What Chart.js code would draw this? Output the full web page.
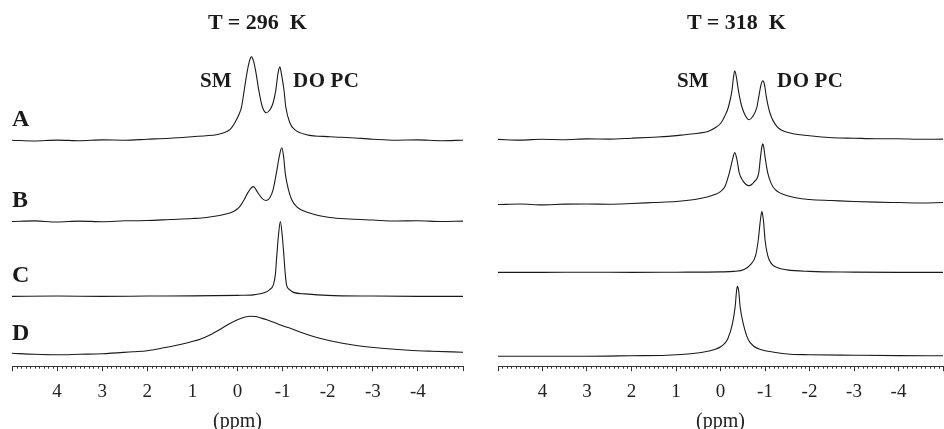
<!DOCTYPE html>
<html>
<head>
<meta charset="utf-8">
<script src="https://cdn.jsdelivr.net/npm/chart.js@4.4.1/dist/chart.umd.min.js"></script>
<style>
  body { margin: 0; background: #fff; }
  #wrap { position: relative; width: 944px; height: 429px; overflow: hidden; font-family: 'Liberation Serif', 'Times New Roman', serif; color: #1a1a1a; }
  .panel { position: absolute; top: 0; height: 433px; }
  .lbl { position: absolute; font-weight: bold; line-height: 1; white-space: pre; }
  .title { font-size: 22px; }
  .comp { font-size: 21px; }
  .row { font-size: 24px; left: 12px; }
</style>
</head>
<body>
<div id="wrap">
  <div class="panel" style="left:0; width:472px"><canvas id="left"></canvas></div>
  <div class="panel" style="left:472px; width:480px"><canvas id="right"></canvas></div>

  <div class="lbl title" style="left:208px; top:11px">T = 296  K</div>
  <div class="lbl title" style="left:687px; top:11px">T = 318  K</div>

  <div class="lbl comp" style="left:200px; top:70px">SM</div>
  <div class="lbl comp" style="left:293px; top:70px; letter-spacing:0.5px">DO<span style="margin-left:5px">PC</span></div>
  <div class="lbl comp" style="left:677px; top:70px">SM</div>
  <div class="lbl comp" style="left:777px; top:70px; letter-spacing:0.5px">DO<span style="margin-left:5px">PC</span></div>

  <div class="lbl row" style="top:106px">A</div>
  <div class="lbl row" style="top:187px">B</div>
  <div class="lbl row" style="top:262px">C</div>
  <div class="lbl row" style="top:320px">D</div>
</div>

<script>
// spectra: [ppm, intensity above own baseline]
// T = 296 K
const leftA = [
  [5.0,0.5],[4.5,-0.3],[4.0,0.6],[3.5,0.0],[3.0,0.8],[2.5,0.5],[2.0,1.5],[1.5,2.5],[1.0,4],[0.7,5],
  [0.47,6],[0.3,8],[0.17,11],[0.06,18],[-0.03,26],[-0.09,34],[-0.15,51],[-0.21,68],[-0.26,79],[-0.31,84],
  [-0.36,79],[-0.41,68],[-0.47,51],[-0.55,34],[-0.64,28],[-0.72,31],[-0.79,38],[-0.85,51],[-0.9,68],[-0.94,74],
  [-0.97,68],[-1.03,51],[-1.07,34],[-1.16,18],[-1.27,11],[-1.53,6],[-2.05,4],[-2.5,3],[-3.0,1.5],[-3.5,0.5],
  [-4.0,0.8],[-4.5,0],[-5.0,0.5]
];
const leftB = [
  [5.0,0],[4.5,0.6],[4.0,-0.5],[3.5,0.4],[3.0,-0.2],[2.5,0.7],[2.0,1],[1.5,2],[1.0,3],[0.69,4],
  [0.4,6],[0.17,8.5],[0.05,11],[-0.05,15],[-0.15,22],[-0.23,29],[-0.35,35],[-0.45,29],[-0.55,23],[-0.64,21],
  [-0.72,24],[-0.79,32],[-0.86,48],[-0.93,66],[-0.98,74],[-1.02,66],[-1.06,48],[-1.13,32],[-1.2,22],[-1.31,15],
  [-1.6,8.5],[-2.05,4],[-2.5,2.5],[-3.0,1.5],[-3.5,0.5],[-4.0,0.8],[-4.5,0],[-5.0,0.4]
];
const leftC = [
  [5.0,0],[4.0,0.3],[3.0,0],[2.0,0.3],[1.0,0.5],[0.0,1],[-0.35,1.5],[-0.62,4],[-0.72,7],[-0.79,11],
  [-0.84,22],[-0.87,40],[-0.91,62],[-0.95,75],[-0.99,62],[-1.03,40],[-1.06,22],[-1.09,11],[-1.15,7],[-1.24,4],
  [-1.5,2.5],[-2.0,1],[-3.0,0.3],[-4.0,0],[-5.0,0]
];
const leftD = [
  [5.0,1],[4.5,0],[4.0,-0.5],[3.5,0],[3.0,0.5],[2.32,2.5],[2.0,3.5],[1.57,7],[1.2,10.5],[0.83,15],
  [0.6,19.5],[0.4,24.5],[0.2,30],[0.0,34.5],[-0.15,37],[-0.3,38],[-0.4,37.8],[-0.5,36.5],[-0.65,34.5],[-0.8,32],
  [-1.0,28.5],[-1.2,25.5],[-1.4,22],[-1.7,17.5],[-2.05,13.5],[-2.6,9],[-3.2,6],[-3.8,4],[-4.3,3],[-5.0,2]
];
// T = 318 K
const rightA = [
  [5.0,0.3],[4.5,-0.4],[4.0,0.5],[3.5,0],[3.0,0.8],[2.5,0.6],[2.0,1.5],[1.5,2.5],[1.17,3.3],[0.8,5],
  [0.5,6.5],[0.28,8.3],[0.12,12],[-0.01,16.7],[-0.1,24],[-0.18,33],[-0.26,50],[-0.29,62],[-0.32,69],[-0.36,62],
  [-0.4,50],[-0.48,33],[-0.56,24],[-0.64,20],[-0.72,23],[-0.82,33],[-0.86,43],[-0.91,55],[-0.95,59],[-0.99,55],
  [-1.03,43],[-1.11,27],[-1.27,13],[-1.57,6.7],[-2.0,4],[-2.53,2],[-3.0,1.5],[-3.5,1],[-4.0,1],[-4.5,0.4],
  [-5.0,0.6]
];
const rightB = [
  [5.0,0],[4.5,0.5],[4.0,-0.3],[3.5,0.4],[3.0,0.5],[2.5,0.3],[2.0,1],[1.5,2],[1.0,3],[0.58,5],
  [0.3,7.5],[0.13,10],[0.0,13],[-0.1,18],[-0.2,32],[-0.27,45],[-0.32,52],[-0.37,45],[-0.42,32],[-0.5,24],
  [-0.64,19],[-0.76,23],[-0.86,32],[-0.9,48],[-0.93,58],[-0.95,61],[-0.97,58],[-1.0,48],[-1.06,32],[-1.14,21],
  [-1.23,15],[-1.57,8],[-2.0,5],[-2.5,4],[-3.0,3],[-3.5,2.4],[-4.0,2],[-4.5,1.6],[-5.0,2]
];
const rightC = [
  [5.0,0],[4.0,0],[3.0,0.2],[2.0,0],[1.0,0.2],[0.0,0.5],[-0.3,1],[-0.53,3],[-0.68,8],[-0.79,17],
  [-0.85,33],[-0.89,50],[-0.91,57],[-0.93,61],[-0.95,57],[-0.97,50],[-1.0,33],[-1.06,17],[-1.14,9],[-1.27,5],
  [-1.5,2.5],[-2.0,1],[-3.0,0.3],[-4.0,0],[-5.0,0]
];
const rightD = [
  [5.0,0],[4.0,0],[3.0,0],[2.0,0.5],[1.2,1],[0.8,2],[0.4,4],[0.13,6.7],[-0.02,10],[-0.16,17],
  [-0.27,33],[-0.33,50],[-0.36,65],[-0.38,70],[-0.41,65],[-0.44,50],[-0.51,33],[-0.62,17],[-0.75,10],[-0.9,6.7],
  [-1.2,4],[-1.57,2],[-2.0,1.5],[-3.0,1],[-4.0,0.6],[-5.0,0.5]
];

// baseline of each trace (A..D) above the ppm axis, same units
const leftOffsets = [226, 145, 70, 12];
const rightOffsets = [227, 162, 94, 10];

const axisFont = { family: "'Liberation Serif', 'Times New Roman', serif", size: 19 };

const minorTicks = {
  id: 'minorTicks',
  afterDraw(chart) {
    const x = chart.scales.x;
    const ctx = chart.ctx;
    const y0 = chart.chartArea.bottom;
    ctx.save();
    ctx.strokeStyle = '#333';
    ctx.lineWidth = 1;
    ctx.beginPath();
    for (let i = -50; i <= 50; i++) {
      if (i % 10 === 0) continue;
      const px = Math.round(x.getPixelForValue(i / 10)) + 0.5;
      ctx.moveTo(px, y0);
      ctx.lineTo(px, y0 + 2.5);
    }
    ctx.stroke();
    ctx.restore();
  }
};

function makePanel(id, traces, offsets, padLeft, padRight) {
  const datasets = traces.map((tr, i) => ({
    data: tr.map(p => ({ x: p[0], y: p[1] + offsets[i] })),
    borderColor: '#1a1a1a',
    borderWidth: 1.1,
    pointRadius: 0,
    fill: false,
    cubicInterpolationMode: 'monotone'
  }));

  return new Chart(document.getElementById(id), {
    type: 'line',
    data: { datasets: datasets },
    options: {
      responsive: true,
      maintainAspectRatio: false,
      animation: false,
      events: [],
      layout: { padding: { left: padLeft, right: padRight, top: 0, bottom: 1 } },
      plugins: { legend: { display: false }, tooltip: { enabled: false } },
      scales: {
        x: {
          type: 'linear',
          reverse: true,
          min: -5,
          max: 5,
          ticks: {
            stepSize: 1,
            autoSkip: false,
            maxRotation: 0,
            padding: 9,
            color: '#222',
            font: axisFont,
            callback: v => (Math.abs(v) >= 5 ? '' : String(v))
          },
          grid: { display: true, drawOnChartArea: false, drawTicks: true, tickLength: 5, color: '#333' },
          border: { display: true, color: '#333', width: 1 },
          title: {
            display: true,
            text: '(ppm)',
            color: '#222',
            font: { family: axisFont.family, size: 20, lineHeight: 1 },
            padding: { top: 0, bottom: 0 }
          }
        },
        y: { display: false, min: 0, max: 367 }
      }
    },
    plugins: [minorTicks]
  });
}

makePanel('left', [leftA, leftB, leftC, leftD], leftOffsets, 12, 9);
makePanel('right', [rightA, rightB, rightC, rightD], rightOffsets, 26, 3);
</script>
</body>
</html>
